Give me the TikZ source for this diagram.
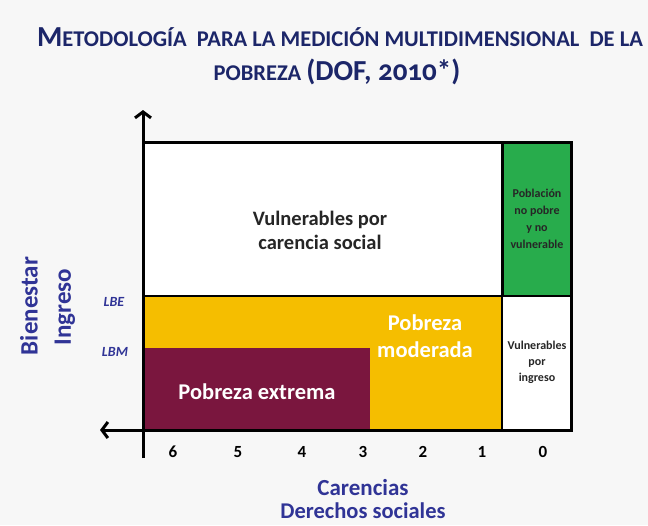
\documentclass[tikz,border=0pt]{standalone}
\usepackage{fontspec}
\setmainfont{Carlito}
\usepackage{tikz}
\usetikzlibrary{arrows.meta}
\definecolor{titleblue}{RGB}{28,38,105}
\definecolor{axisblue}{RGB}{48,52,150}
\definecolor{wine}{RGB}{122,22,62}
\definecolor{amber}{RGB}{245,190,0}
\definecolor{leaf}{RGB}{40,172,76}
\definecolor{paper}{RGB}{247,247,247}
\newcommand{\capbig}[1]{{\fontsize{29}{29}\selectfont #1}}

\begin{document}
\begin{tikzpicture}[axis/.style={line width=3pt, -{Straight Barb[length=6pt,width=16pt]}}, frame/.style={line width=3pt}, inner/.style={line width=2pt}, lbl/.style={align=center, font=\bfseries\fontsize{20.5}{24}\selectfont}, small/.style={align=center, text=black!85, font=\bfseries\fontsize{12}{16}\selectfont}, tick/.style={font=\bfseries\fontsize{17}{17}\selectfont}, ylab/.style={text=axisblue, rotate=90, font=\bfseries\fontsize{25}{25}\selectfont}, lb/.style={text=axisblue, font=\bfseries\itshape\fontsize{14}{14}\selectfont}]
\useasboundingbox[fill=paper] (0pt, 0pt) rectangle (648pt, -525pt);
% title
\draw (340.0pt, -37.0pt)node[text=titleblue, font=\bfseries\fontsize{22.5}{23}\selectfont](0){\capbig{M}ETODOLOGÍA\ \ PARA LA MEDICIÓN MULTIDIMENSIONAL\ \ DE LA};
\draw (337.0pt, -72.0pt)node[text=titleblue, font=\bfseries\fontsize{22.5}{23}\selectfont](1){POBREZA \capbig{(DOF, {\addfontfeatures{Numbers=OldStyle}2010}*)}};
% regions
\fill[white] (143.0pt, -142.0pt) rectangle (502.0pt, -296.0pt);
\fill[amber] (143.0pt, -296.0pt) rectangle (502.0pt, -430.0pt);
\fill[wine] (143.0pt, -348.0pt) rectangle (370.0pt, -430.0pt);
\fill[leaf] (502.0pt, -142.0pt) rectangle (571.0pt, -296.0pt);
\fill[white] (502.0pt, -296.0pt) rectangle (571.0pt, -430.0pt);
\draw[frame] (143.0pt, -142.0pt) rectangle (571.0pt, -430.0pt);
\draw[frame] (502.0pt, -142.0pt) -- (502.0pt, -296.0pt);
\draw[inner] (502.0pt, -296.0pt) -- (502.0pt, -430.0pt);
\draw[inner] (143.0pt, -296.0pt) -- (571.0pt, -296.0pt);
% axes
\coordinate (o) at (143.0pt, -458.0pt);
\coordinate (ytop) at (143.0pt, -110.0pt);
\coordinate (xr) at (571.0pt, -430.0pt);
\coordinate (xl) at (100.0pt, -430.0pt);
\draw[axis] (o) -- (ytop);
\draw[axis] (xr) -- (xl);
% labels
\draw (320.0pt, -230.0pt)node[lbl, text=black!85](2){Vulnerables por\\carencia social};
\draw (425.0pt, -336.0pt)node[lbl, text=white, font=\bfseries\fontsize{22.5}{27}\selectfont](3){Pobreza\\moderada};
\draw (257.0pt, -392.0pt)node[lbl, text=white, font=\bfseries\fontsize{22.5}{24}\selectfont](4){Pobreza extrema};
\draw (537.0pt, -219.0pt)node[small, font=\bfseries\fontsize{12}{17}\selectfont](5){Población\\no pobre\\y no\\vulnerable};
\draw (537.0pt, -362.0pt)node[small](6){Vulnerables\\por\\ingreso};
\draw (114.0pt, -302.0pt)node[lb](7){LBE};
\draw (115.0pt, -352.0pt)node[lb](8){LBM};
\draw (29.0pt, -306.0pt)node[ylab](9){Bienestar};
\draw (65.0pt, -307.0pt)node[ylab](10){Ingreso};
\foreach \n/\x in {6/173,5/238,4/302,3/363,2/423,1/482,0/543}
  \draw (\x pt, -452.0pt)node[tick](t\n){\n};
\draw (363.0pt, -488.0pt)node[text=axisblue, font=\bfseries\fontsize{23}{23}\selectfont](11){Carencias};
\draw (363.0pt, -511.0pt)node[text=axisblue, font=\bfseries\fontsize{22.5}{22}\selectfont](12){Derechos sociales};
\end{tikzpicture}
\end{document}
